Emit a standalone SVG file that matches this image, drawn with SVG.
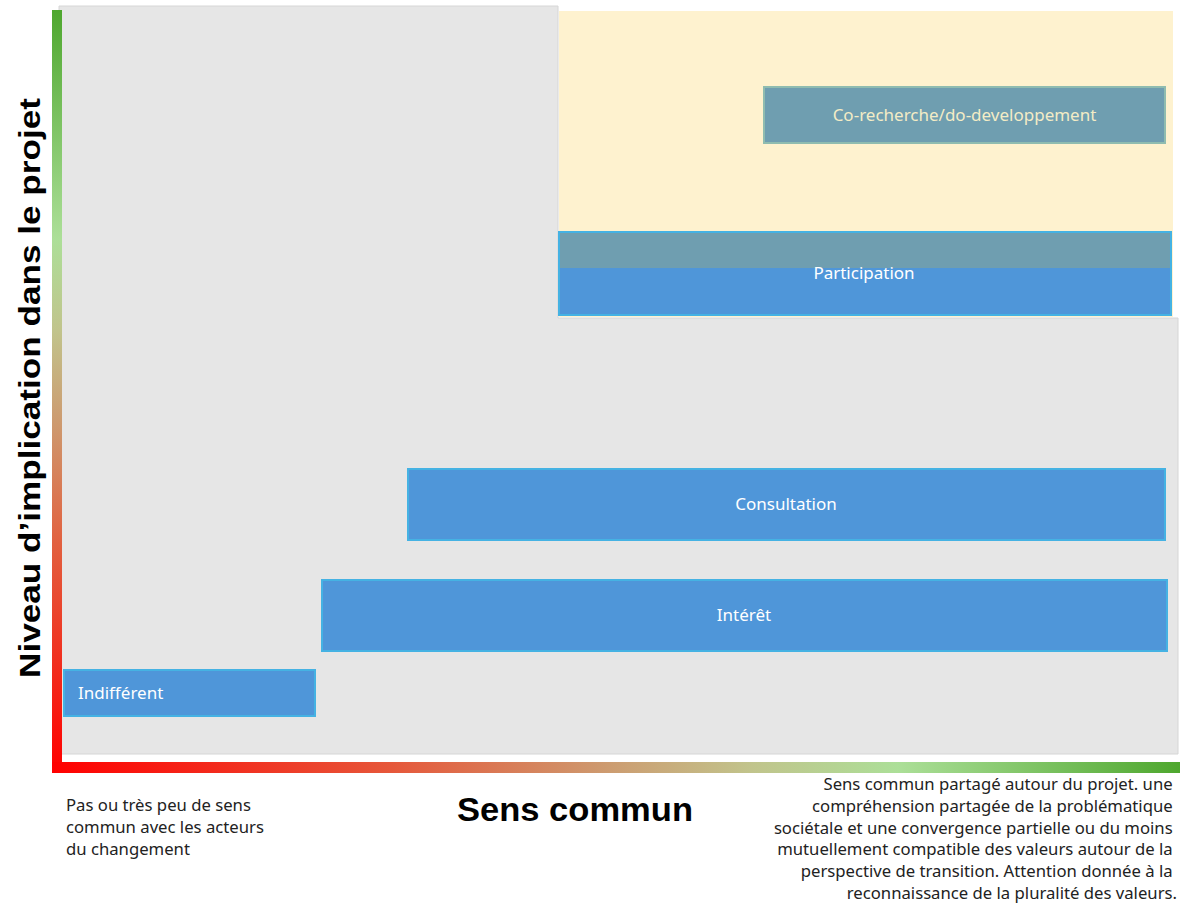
<svg xmlns="http://www.w3.org/2000/svg" width="1180" height="903" viewBox="0 0 1180 903">
<defs>
<linearGradient id="gx" x1="0" y1="0" x2="1" y2="0">
<stop offset="0" stop-color="#ff0000"/>
<stop offset="0.3" stop-color="#e6573a"/>
<stop offset="0.5" stop-color="#cc9e72"/>
<stop offset="0.62" stop-color="#c1c48c"/>
<stop offset="0.75" stop-color="#acdf98"/>
<stop offset="1" stop-color="#4ea72e"/>
</linearGradient>
<linearGradient id="gy" x1="0" y1="1" x2="0" y2="0">
<stop offset="0" stop-color="#ff0000"/>
<stop offset="0.3" stop-color="#e2603f"/>
<stop offset="0.47" stop-color="#cc9e72"/>
<stop offset="0.58" stop-color="#c1c48c"/>
<stop offset="0.7" stop-color="#acdf98"/>
<stop offset="1" stop-color="#4ea72e"/>
</linearGradient>
<style>
.bg{fill:#e6e6e6;stroke:#d6d6d6;stroke-width:1}
.box{fill:#4f96d9;stroke:#45b2e3;stroke-width:2}
.teal{fill:#6f9eb0}
.lbl{font-family:"Noto Sans","Liberation Sans",Arial,sans-serif;font-size:17px;fill:#ffffff}
.note{font-family:"Noto Sans","Liberation Sans",Arial,sans-serif;font-size:16.7px;fill:#222222}
.title{font-family:"Liberation Sans",Arial,sans-serif;font-weight:bold;fill:#000000}
</style>
</defs>
<g id="background">
<path class="bg" d="M59 6 H558 V318 H1178 V754 H59 Z"/>
<rect x="559" y="11" width="614" height="306" fill="#fef2cf"/>
</g>
<g id="axes">
<rect x="52" y="10" width="10" height="763" fill="url(#gy)"/>
<rect x="52" y="762" width="1128" height="11" fill="url(#gx)"/>
</g>
<g id="node-co-recherche">
<rect x="764" y="87" width="401" height="56" class="teal" stroke="#8fbcb0" stroke-width="2"/>
<text class="lbl" x="964.5" y="121" text-anchor="middle" style="fill:#f3ecc6">Co-recherche/do-developpement</text>
</g>
<g id="node-participation">
<rect x="559" y="232" width="612" height="83" class="box"/>
<rect x="560" y="233" width="610" height="35" class="teal"/>
<text class="lbl" x="864" y="279" text-anchor="middle">Participation</text>
</g>
<g id="node-consultation">
<rect x="408" y="469" width="757" height="71" class="box"/>
<text class="lbl" x="786" y="510" text-anchor="middle">Consultation</text>
</g>
<g id="node-interet">
<rect x="322" y="580" width="845" height="71" class="box"/>
<text class="lbl" x="744" y="621" text-anchor="middle">Intérêt</text>
</g>
<g id="node-indifferent">
<rect x="64" y="670" width="251" height="46" class="box"/>
<text class="lbl" x="78" y="699">Indifférent</text>
</g>
<g id="connectors"></g>
<g id="labels">
<text class="title" x="0" y="0" font-size="29" text-anchor="middle" textLength="580" lengthAdjust="spacingAndGlyphs" transform="translate(40 388) rotate(-90)">Niveau d’implication dans le projet</text>
<text class="title" x="575" y="821" font-size="33" text-anchor="middle" textLength="236" lengthAdjust="spacingAndGlyphs">Sens commun</text>
<text class="note">
<tspan x="66" y="811">Pas ou très peu de sens</tspan>
<tspan x="66" y="833">commun avec les acteurs</tspan>
<tspan x="66" y="855">du changement</tspan>
</text>
<text class="note" text-anchor="end">
<tspan x="1177" y="790">Sens commun partagé autour du projet. une</tspan>
<tspan x="1177" y="812">compréhension partagée de la problématique</tspan>
<tspan x="1177" y="834">sociétale et une convergence partielle ou du moins</tspan>
<tspan x="1177" y="855">mutuellement compatible des valeurs autour de la</tspan>
<tspan x="1177" y="877">perspective de transition. Attention donnée à la</tspan>
<tspan x="1177" y="899">reconnaissance de la pluralité des valeurs.</tspan>
</text>
</g>
</svg>
